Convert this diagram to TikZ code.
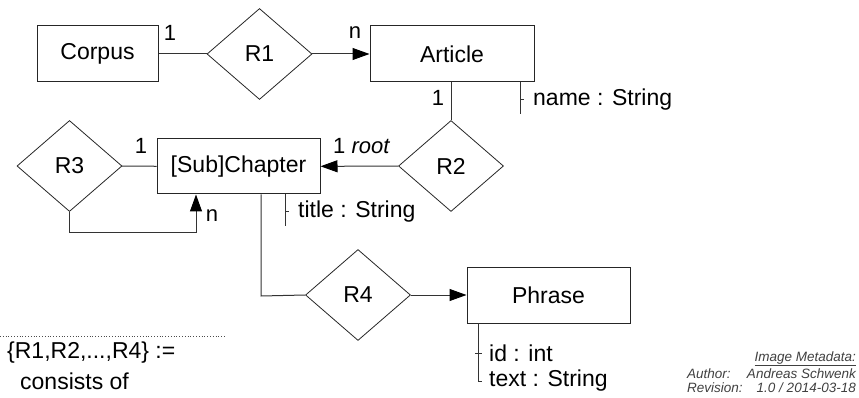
\documentclass[tikz,border=0pt]{standalone}
\usepackage{fontspec}
\setmainfont{Liberation Sans}
\usetikzlibrary{shapes.geometric,arrows.meta}

\tikzset{
  entity/.style={draw=black!85, line width=1pt, rectangle, inner sep=0pt,
    minimum width=#1, minimum height=56pt, font=\fontsize{23}{26}\selectfont},
  entity/.default=122pt,
  relation/.style={draw=black!85, line width=0.8pt, diamond, inner sep=0pt,
    minimum width=105pt, minimum height=91pt, font=\fontsize{23}{26}\selectfont},
  link/.style={draw=black!80, line width=1pt},
  tip/.style={link, -{Triangle[length=17pt,width=12pt,color=black]}},
  card/.style={inner sep=0pt, font=\fontsize{22}{24}\selectfont},
  attr/.style={inner sep=0pt, anchor=west, font=\fontsize{23}{26}\selectfont},
  meta/.style={inner sep=0pt, font=\fontsize{13.5}{15}\selectfont\itshape}
}

\begin{document}
\begin{tikzpicture}[x=1pt,y=-1pt]
  \useasboundingbox (0,0) rectangle (859,398);

  % entities
  \node[entity=121pt] (corpus) at (97.5,54) {Corpus};
  \node[entity=164pt] (article) at (452,54) {Article};
  \node[entity=163pt, minimum height=55pt] (chapter) at (238.5,166.5) {[Sub]Chapter};
  \node[entity=163pt] (phrase) at (548.5,295) {Phrase};

  % relations
  \node[relation] (r1) at (259.5,54) {R1};
  \node[relation] (r2) at (451,166) {R2};
  \node[relation] (r3) at (69.5,166) {R3};
  \node[relation] (r4) at (358,295) {R4};

  % connectors
  \draw[link] (corpus) -- (r1);
  \draw[tip] (r1) -- (article);
  \draw[link] (article.south -| r2.north) -- (r2.north);
  \draw[tip] (r2) -- (chapter);
  \draw[link] (r3) -- (chapter);
  \coordinate (loopa) at (69.5,232);
  \coordinate (loopb) at (196,232);
  \draw[tip] (r3.south) -- (loopa) -- (loopb) -- (loopb |- chapter.south);
  \coordinate (bend) at (261,296);
  \draw[link] (chapter.south -| bend) -- (bend) -- (r4.west);
  \draw[tip] (r4) -- (phrase);

  % cardinalities
  \node[card] (c1) at (170,33) {1};
  \node[card] (cn) at (355,33) {n};
  \node[card] (c2) at (438,98) {1};
  \node[card, anchor=west] (c3) at (333,146) {1 \textit{root}};
  \node[card] (c4) at (141,146) {1};
  \node[card] (c5) at (212,216) {n};

  % attributes
  \coordinate (na) at (520,82);
  \draw[link] (na) -- (520,114);
  \draw[link] (520,100) -- (524,100);
  \node[attr] (aname) at (533,100) {name : String};

  \coordinate (ta) at (285,194);
  \draw[link] (ta) -- (285,226);
  \draw[link] (285,212) -- (289,212);
  \node[attr] (atitle) at (298,212) {title : String};

  \coordinate (pa) at (478,323);
  \draw[link] (pa) -- (478,381) -- (482,381);
  \draw[link] (475,353) -- (482,353);
  \node[attr] (aid) at (489,353) {id : int};
  \node[attr] (atext) at (489,381) {text : String};

  % legend
  \draw[black!70, line width=0.8pt, dotted] (0,336) -- (225,336);
  \node[attr] (leg1) at (7,353) {\{R1,R2,...,R4\} :=};
  \node[attr] (leg2) at (20,381) {consists of};

  % metadata block
  \node[meta, anchor=east, text=black!75] (mhead) at (856,359) {\underline{Image Metadata:}};
  \node[meta, anchor=west, text=black!75] (mauth) at (687,374) {Author:};
  \node[meta, anchor=east, text=black!75] (mauthv) at (856,374) {Andreas Schwenk};
  \node[meta, anchor=west, text=black!75] (mrev) at (687,388) {Revision:};
  \node[meta, anchor=east, text=black!75] (mrevv) at (856,388) {1.0 / 2014-03-18};
\end{tikzpicture}
\end{document}
